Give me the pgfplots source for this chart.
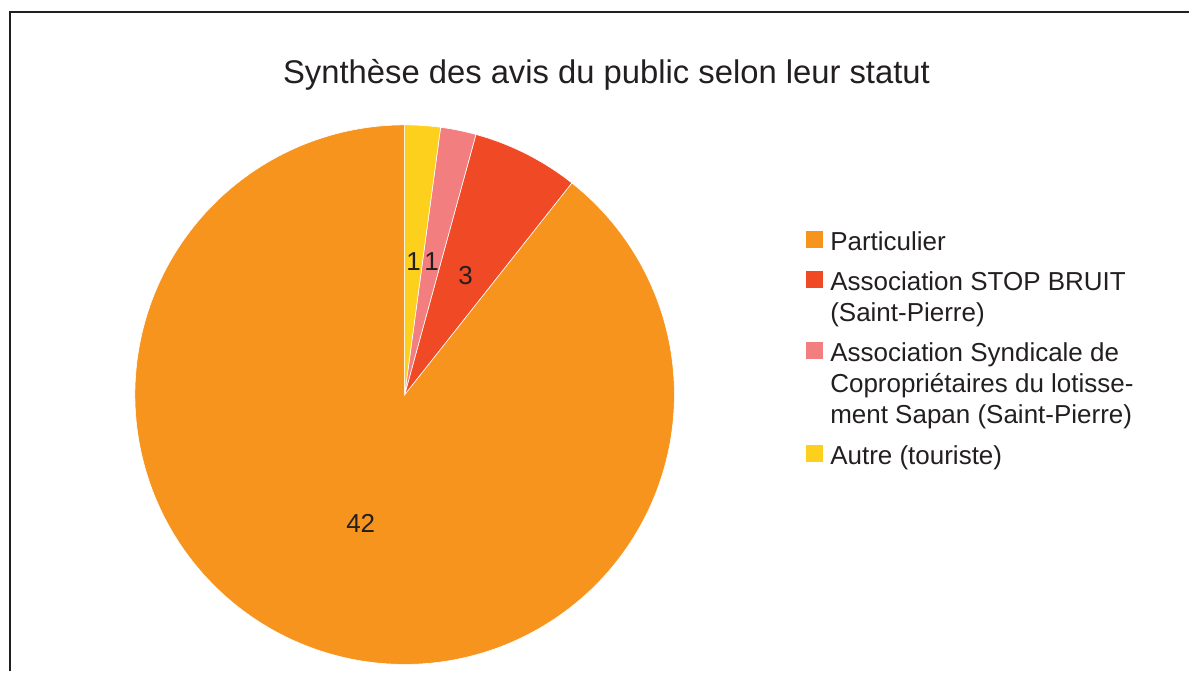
\documentclass[border=0pt]{standalone}
\usepackage{pgfplots}
\pgfplotsset{compat=1.18}
\usepackage{fontspec}
\setmainfont{Liberation Sans}

\definecolor{cOrange}{HTML}{F7941E}
\definecolor{cRed}{HTML}{EF4A25}
\definecolor{cPink}{HTML}{F37E7F}
\definecolor{cYellow}{HTML}{FDD01E}
\definecolor{cText}{HTML}{231F20}

% nombre d'avis par statut
\def\vPart{42}
\def\vStop{3}
\def\vSynd{1}
\def\vAutre{1}
\pgfmathsetmacro\total{\vPart+\vStop+\vSynd+\vAutre}
% angles (sens horaire depuis midi)
\pgfmathsetmacro\aOne{90-360*\vAutre/\total}
\pgfmathsetmacro\aTwo{\aOne-360*\vSynd/\total}
\pgfmathsetmacro\aThree{\aTwo-360*\vStop/\total}

\begin{document}
\begin{tikzpicture}
\begin{axis}[
    scale only axis,
    width=595pt, height=336pt,
    xmin=0, xmax=1190, ymin=0, ymax=672,
    hide axis, clip=false,
    legend cell align=left,
    legend style={at={(0.6773,0.6600)}, anchor=north west,
        draw=none, fill=none, inner sep=0pt,
        row sep=7.8pt, column sep=4pt,
        font=\fontsize{13pt}{15.5pt}\selectfont, text=cText,
        nodes={inner sep=0pt, align=left}},
    slice/.style={draw=white, line width=0.3pt, fill=#1},
]
\path (axis cs:0,0) rectangle (axis cs:1190,672);
\draw[color=cText, line width=1pt] (axis cs:10,0) -- (axis cs:10,660) -- (axis cs:1190,660);

\addplot[slice=cOrange, domain=-270:\aThree, samples=240, variable=\t,
    legend image code/.code={\fill[cOrange] (0pt,-3.1pt) rectangle (8pt,4.9pt);}]
    ({405+270*cos(t)},{277+270*sin(t)}) -- (axis cs:405,277) -- cycle;
\addlegendentry{\strut Particulier}

\addplot[slice=cRed, domain=\aThree:\aTwo, samples=30, variable=\t,
    legend image code/.code={\fill[cRed] (0pt,4.65pt) rectangle (8pt,12.65pt);}]
    ({405+270*cos(t)},{277+270*sin(t)}) -- (axis cs:405,277) -- cycle;
\addlegendentry{\strut Association STOP BRUIT\\\strut(Saint-Pierre)}

\addplot[slice=cPink, domain=\aTwo:\aOne, samples=15, variable=\t,
    legend image code/.code={\fill[cPink] (0pt,12.4pt) rectangle (8pt,20.4pt);}]
    ({405+270*cos(t)},{277+270*sin(t)}) -- (axis cs:405,277) -- cycle;
\addlegendentry{\strut Association Syndicale de\\\strut Copropriétaires du lotisse-\\\strut ment Sapan (Saint-Pierre)}

\addplot[slice=cYellow, domain=\aOne:90, samples=15, variable=\t,
    legend image code/.code={\fill[cYellow] (0pt,-3.1pt) rectangle (8pt,4.9pt);}]
    ({405+270*cos(t)},{277+270*sin(t)}) -- (axis cs:405,277) -- cycle;
\addlegendentry{\strut Autre (touriste)}

% étiquettes de données
\addplot[draw=none, forget plot, nodes near coords, point meta=explicit symbolic,
    every node near coord/.style={anchor=center, inner sep=0pt,
        font=\fontsize{13pt}{15pt}\selectfont, text=cText}]
    coordinates {(414,410)[1] (432,410)[1] (466,396)[3] (361,148)[42]};

\node[font=\fontsize{16.4pt}{19pt}\selectfont, text=cText, anchor=base]
    at (axis cs:607,588) {Synthèse des avis du public selon leur statut};
\end{axis}
\end{tikzpicture}
\end{document}
